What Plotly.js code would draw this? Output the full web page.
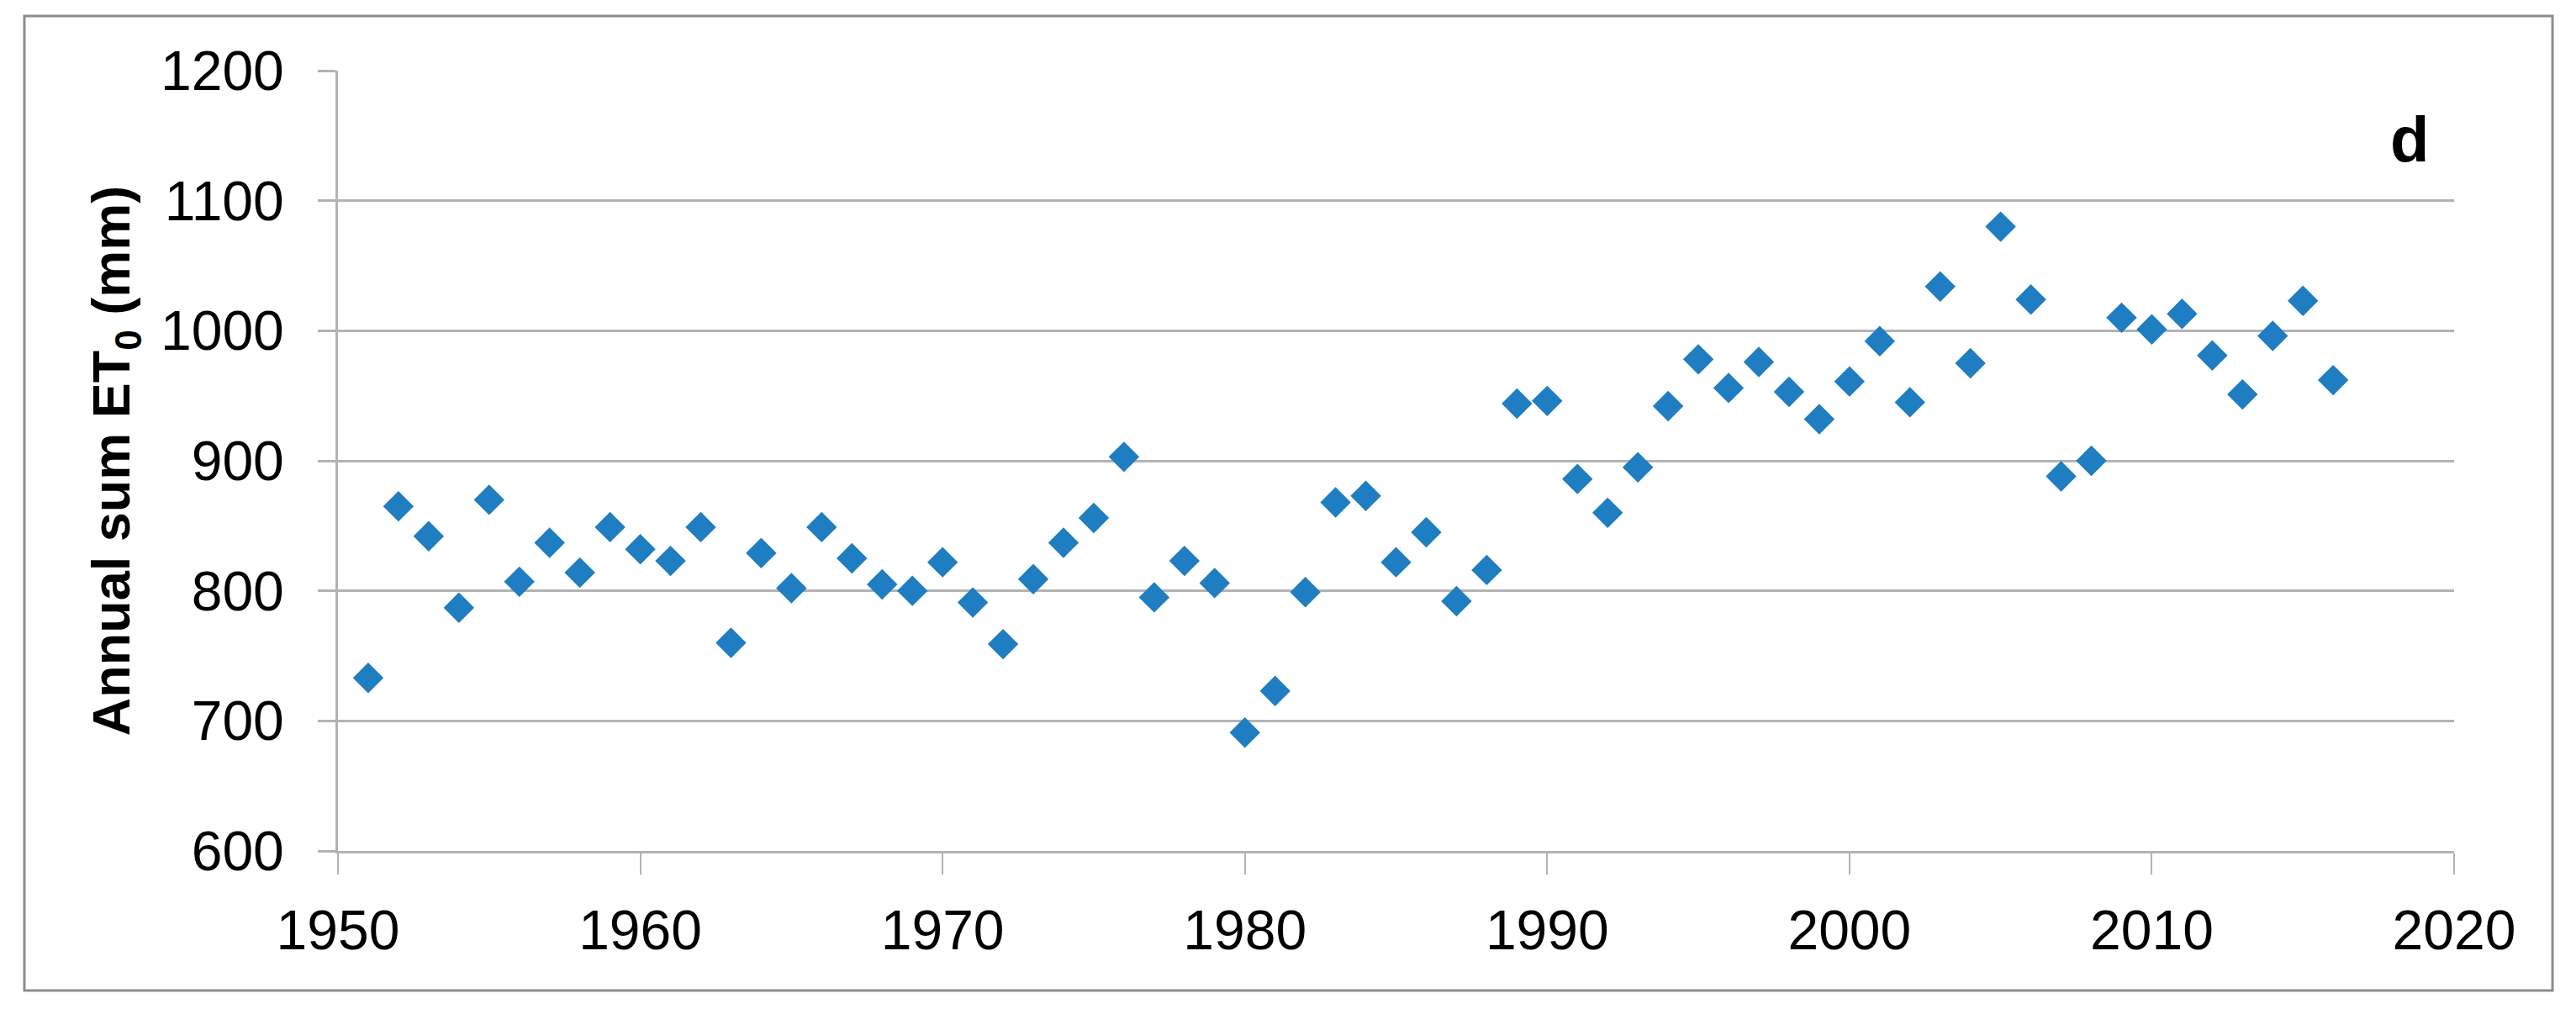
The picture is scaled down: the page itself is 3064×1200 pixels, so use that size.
<!DOCTYPE html>
<html>
<head>
<meta charset="utf-8">
<script src="https://cdn.plot.ly/plotly-3.0.1.min.js"></script>
<style>
  html, body { margin: 0; padding: 0; background: #ffffff; }
  #chart { width: 3064px; height: 1200px; }
</style>
</head>
<body>
<div id="chart"></div>
<script>
// Years of observation
const years = [
  1951, 1952, 1953, 1954, 1955, 1956, 1957, 1958, 1959, 1960,
  1961, 1962, 1963, 1964, 1965, 1966, 1967, 1968, 1969, 1970,
  1971, 1972, 1973, 1974, 1975, 1976, 1977, 1978, 1979, 1980,
  1981, 1982, 1983, 1984, 1985, 1986, 1987, 1988, 1989, 1990,
  1991, 1992, 1993, 1994, 1995, 1996, 1997, 1998, 1999, 2000,
  2001, 2002, 2003, 2004, 2005, 2006, 2007, 2008, 2009, 2010,
  2011, 2012, 2013, 2014, 2015, 2016
];

// Annual sum of reference evapotranspiration ET0 (mm)
const et0 = [
  733, 865, 842, 787, 870, 807, 837, 814, 849, 832,
  823, 849, 760, 829, 802, 849, 825, 805, 800, 822,
  791, 759, 809, 837, 856, 903, 795, 823, 806, 691,
  723, 799, 868, 873, 822, 845, 792, 816, 944, 946,
  886, 860, 895, 942, 978, 956, 976, 953, 932, 961,
  992, 945, 1034, 975, 1080, 1024, 888, 900, 1010, 1001,
  1013, 981, 951, 996, 1023, 962
];

const xTickValues = [1950, 1960, 1970, 1980, 1990, 2000, 2010, 2020];
const yTickValues = [600, 700, 800, 900, 1000, 1100, 1200];
const yTitle = 'Annual sum ET<sub>0</sub> (mm)';
const panelLabel = 'd';

const gridColor = '#b3b3b3';
const tickFont = { family: '"Liberation Sans", Arial, sans-serif', size: 66, color: '#000000' };

const trace = {
  type: 'scatter',
  mode: 'markers',
  x: years,
  y: et0,
  marker: { symbol: 'diamond', size: 28, color: '#1f7dc1', line: { width: 0 } },
  hoverinfo: 'x+y',
  showlegend: false
};

const layout = {
  width: 3064,
  height: 1200,
  paper_bgcolor: '#ffffff',
  plot_bgcolor: '#ffffff',
  margin: { l: 402, r: 145, t: 84, b: 188, pad: 0 },
  showlegend: false,
  xaxis: {
    range: [1950, 2020],
    tickmode: 'array',
    tickvals: xTickValues,
    ticktext: xTickValues.map(String),
    showgrid: false,
    zeroline: false,
    showline: true,
    linecolor: gridColor,
    linewidth: 3,
    ticks: 'outside',
    ticklen: 25,
    tickwidth: 2,
    tickcolor: gridColor,
    tickfont: tickFont,
    ticklabelstandoff: 10,
    fixedrange: true
  },
  yaxis: {
    range: [600, 1200],
    tickmode: 'array',
    tickvals: yTickValues,
    ticktext: yTickValues.map(String),
    showgrid: true,
    gridcolor: gridColor,
    gridwidth: 3,
    zeroline: false,
    showline: true,
    linecolor: gridColor,
    linewidth: 3,
    ticks: 'outside',
    ticklen: 21,
    tickwidth: 3,
    tickcolor: gridColor,
    tickfont: tickFont,
    ticklabelstandoff: 27,
    title: {
      text: yTitle,
      font: { family: '"Liberation Sans", Arial, sans-serif', size: 63, color: '#000000', weight: 'bold' },
      standoff: 16
    },
    automargin: false,
    fixedrange: true
  },
  annotations: [
    {
      text: panelLabel,
      xref: 'paper', yref: 'paper',
      x: 0.979, y: 0.912,
      xanchor: 'center', yanchor: 'middle',
      showarrow: false,
      font: { family: '"Liberation Sans", Arial, sans-serif', size: 76, color: '#000000', weight: 'bold' }
    }
  ],
  shapes: [
    {
      type: 'rect',
      xref: 'paper', yref: 'paper',
      x0: -0.1482, x1: 1.0465, y0: -0.1789, y1: 1.0700,
      line: { color: '#8c8c8c', width: 3 },
      fillcolor: 'rgba(0,0,0,0)',
      layer: 'below'
    }
  ]
};

Plotly.newPlot('chart', [trace], layout, { displayModeBar: false, staticPlot: true });
</script>
</body>
</html>
